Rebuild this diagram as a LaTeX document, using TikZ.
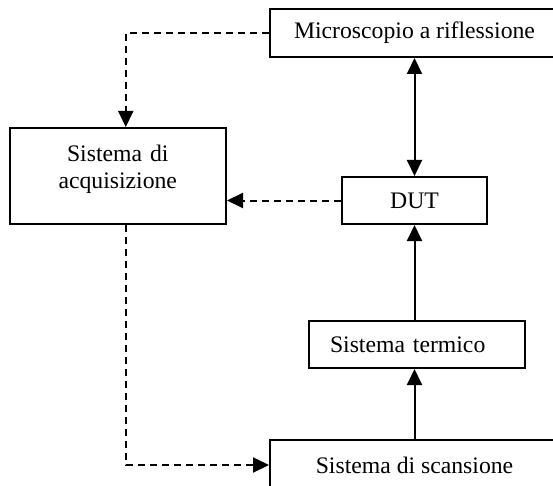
\documentclass[tikz,border=0pt]{standalone}
\usepackage{fontspec}
\setmainfont{Liberation Serif}
\usetikzlibrary{arrows.meta}

\begin{document}
\begin{tikzpicture}[x=1pt, y=-1pt, line width=2pt,
  every node/.style={font=\fontsize{23.7}{27}\selectfont},
  blocco/.style={draw=black, rectangle, inner sep=0pt},
  freccia/.style={-{Triangle[length=16pt,width=15pt]}},
  tratteggio/.style={dash pattern=on 7pt off 5pt}]
\useasboundingbox (0,0) rectangle (553,486);
% Blocchi
\node[blocco, minimum width=289pt, minimum height=48pt] (micro) at (414.5,33) {Microscopio a riflessione};
\node[blocco, text width=216.5pt, align=center, minimum height=96pt, text depth=46pt] (acq) at (117.75,176) {Sistema di\\acquisizione};
\node[blocco, minimum width=145pt, minimum height=47pt] (dut) at (414.5,200.5) {DUT};
\node[blocco, text width=173.5pt, inner xsep=21pt, align=left, minimum height=47pt] (term) at (416.75,344.5) {Sistema termico};
\node[blocco, minimum width=289pt, minimum height=50pt] (scan) at (414.5,465) {Sistema di scansione};
% Collegamenti
\draw[freccia, tratteggio] (micro.west) -| ([xshift=8pt]acq.north);
\draw[freccia, tratteggio] (dut.west) -- (dut.west -| acq.east);
\draw[freccia, tratteggio] ([xshift=8pt]acq.south) |- (scan.west);
\draw[{Triangle[length=16pt,width=15pt]}-{Triangle[length=16pt,width=15pt]}] (micro.south) -- (dut.north);
\draw[freccia] (dut.south |- term.north) -- (dut.south);
\draw[freccia] (scan.north) -- (scan.north |- term.south);
\end{tikzpicture}
\end{document}
